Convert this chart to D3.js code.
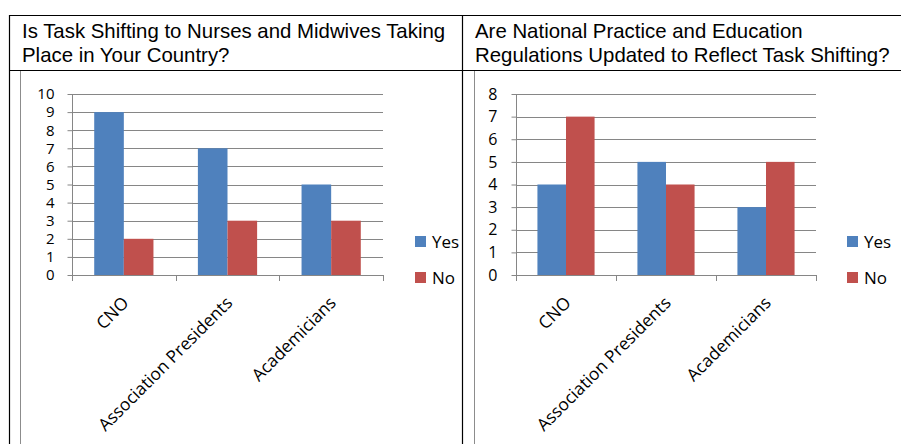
<!DOCTYPE html>
<html><head><meta charset="utf-8">
<script src="https://cdn.jsdelivr.net/npm/d3@7"></script>
<style>body{margin:0;background:#fff}svg{display:block}text{font-family:"Open Sans","Noto Sans",sans-serif;fill:#000}</style>
</head><body>
<svg id="c" width="901" height="444"></svg>
<script>
const categories = ["CNO", "Association Presidents", "Academicians"];
const seriesNames = ["Yes", "No"];
const chart1Title = ["Is Task Shifting to Nurses and Midwives Taking", "Place in Your Country?"];
const chart1Yes = [9, 7, 5];
const chart1No = [2, 3, 3];
const chart1Ticks = [0,1,2,3,4,5,6,7,8,9,10];
const chart2Title = ["Are National Practice and Education", "Regulations Updated to Reflect Task Shifting?"];
const chart2Yes = [4, 5, 3];
const chart2No = [7, 4, 5];
const chart2Ticks = [0,1,2,3,4,5,6,7,8];
const colors = ["#4F81BD", "#C0504D"];

const svg = d3.select("#c");

// table lines
const tbl = svg.append("g").attr("stroke", "#000").attr("stroke-width", 1.2);
tbl.append("line").attr("x1", 9).attr("x2", 901).attr("y1", 15.5).attr("y2", 15.5);
tbl.append("line").attr("x1", 9).attr("x2", 901).attr("y1", 70.5).attr("y2", 70.5);
tbl.append("line").attr("x1", 9.5).attr("x2", 9.5).attr("y1", 15).attr("y2", 444);
tbl.append("line").attr("x1", 462.5).attr("x2", 462.5).attr("y1", 15).attr("y2", 444);

function drawPanel(cfg) {
  const g = svg.append("g");
  // title
  cfg.title.forEach((t, i) => {
    g.append("text").attr("x", cfg.titleX).attr("y", 38 + i * 24)
      .style("font-family", '"Liberation Sans",Arial,sans-serif')
      .style("font-size", "20.4px").text(t);
  });
  // chart frame
  g.append("line").attr("x1", cfg.frameX + 0.5).attr("x2", cfg.frameX + 0.5)
    .attr("y1", 71).attr("y2", 444).attr("stroke", "#8c8c8c").attr("stroke-width", 1);

  const x = d3.scaleBand().domain(categories).range([cfg.x0, cfg.x1]).paddingInner(0).paddingOuter(0);
  const y = d3.scaleLinear().domain([0, cfg.max]).range([cfg.yBottom, cfg.yTop]);
  const sub = d3.scaleBand().domain(seriesNames).range([0, x.bandwidth()]).paddingInner(0).paddingOuter(0.75);

  // gridlines
  g.append("g").selectAll("line").data(cfg.ticks.filter(d => d > 0)).join("line")
    .attr("x1", cfg.x0).attr("x2", cfg.x1)
    .attr("y1", d => Math.round(y(d)) + 0.5).attr("y2", d => Math.round(y(d)) + 0.5)
    .attr("stroke", "#868686").attr("stroke-width", 1);

  // bars
  const data = [cfg.yes, cfg.no];
  data.forEach((vals, si) => {
    g.append("g").selectAll("rect").data(vals).join("rect")
      .attr("x", (d, i) => x(categories[i]) + sub(seriesNames[si]))
      .attr("width", sub.bandwidth())
      .attr("y", d => y(d))
      .attr("height", d => y(0) - y(d))
      .attr("fill", colors[si]);
  });

  // y axis
  const ya = g.append("g").attr("transform", `translate(${cfg.x0 + 0.5},0)`)
    .call(d3.axisLeft(y).tickValues(cfg.ticks).tickSize(5).tickPadding(cfg.tickPad).tickFormat(d3.format("d")));
  ya.selectAll("line, path").attr("stroke", "#868686");
  ya.select("path").attr("d", `M-0,${cfg.yTop}V${cfg.yBottom}`);
  ya.selectAll("text").attr("font-size", cfg.tickFont).attr("fill", "#000");

  // x axis line & boundary ticks
  const xa = g.append("g");
  xa.append("line").attr("x1", cfg.x0).attr("x2", cfg.x1)
    .attr("y1", Math.round(y(0)) + 0.5).attr("y2", Math.round(y(0)) + 0.5).attr("stroke", "#868686");
  const bounds = categories.map(c => x(c)).concat([cfg.x1]);
  xa.selectAll("line.b").data(bounds).join("line").attr("class", "b")
    .attr("x1", d => Math.round(d) + 0.5).attr("x2", d => Math.round(d) + 0.5)
    .attr("y1", y(0)).attr("y2", y(0) + 6).attr("stroke", "#868686");
  // category labels
  xa.selectAll("text").data(categories).join("text")
    .attr("text-anchor", "end")
    .attr("font-size", 17.3)
    .attr("transform", d => `translate(${x(d) + x.bandwidth() / 2 + 6},${y(0) + 29}) rotate(-45)`)
    .text(d => d);

  // legend
  const lg = g.append("g");
  seriesNames.forEach((s, i) => {
    const ly = 242 + i * 36;
    lg.append("rect").attr("x", cfg.legX).attr("y", ly - 6).attr("width", 11).attr("height", 11).attr("fill", colors[i]);
    lg.append("text").attr("x", cfg.legX + 17).attr("y", ly + 6).attr("font-size", 17).text(s);
  });
}

drawPanel({ title: chart1Title, titleX: 22, frameX: 20, x0: 72, x1: 383, yTop: 94, yBottom: 275,
  max: 10, ticks: chart1Ticks, yes: chart1Yes, no: chart1No, tickPad: 13, tickFont: 15, legX: 415 });
drawPanel({ title: chart2Title, titleX: 475, frameX: 474, x0: 516, x1: 816, yTop: 94, yBottom: 275,
  max: 8, ticks: chart2Ticks, yes: chart2Yes, no: chart2No, tickPad: 14, tickFont: 16, legX: 847 });
</script>
</body></html>
